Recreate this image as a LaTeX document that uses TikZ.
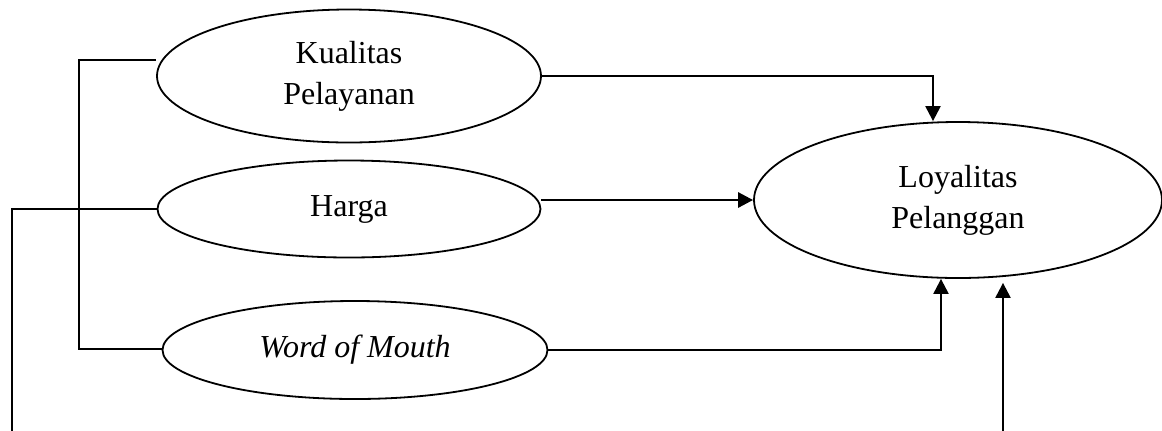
\documentclass[tikz,border=0pt]{standalone}
\usepackage{fontspec}
\setmainfont{Liberation Serif}
\usepackage{tikz}
\usetikzlibrary{shapes,arrows.meta}
\usetikzlibrary{positioning}
\tikzstyle{arrow} = [-{Triangle[length=7.5pt,width=7.5pt]}, line width=1.1pt]
\tikzstyle{line} = [draw, line width=1pt]
\tikzstyle{var} = [ellipse, draw, line width=0.9pt, align=center, inner sep=0pt,
   font=\fontsize{16}{20.5}\selectfont]

\begin{document}
\begin{tikzpicture}[node distance=66.5pt]

\useasboundingbox (0,0) rectangle (581pt,-215pt);
\clip (0,0) rectangle (581pt,-215pt);

\node (kp) [var, minimum width=192pt, minimum height=66.5pt] at (174.5pt,-38pt) {Kualitas\\Pelayanan};

\node (hg) [var, below of=kp, minimum width=191.5pt, minimum height=48.5pt] {Harga};

\node (wom) [var, below of=hg, xshift=3pt, yshift=-4pt, minimum width=192.5pt, minimum height=49pt] {\textit{Word of Mouth}};

\node (lp) [var, right of=hg, node distance=304.5pt, yshift=4.5pt, minimum width=204pt, minimum height=78pt] {Loyalitas\\Pelanggan};

\coordinate (brk) at (39.5pt,-174.5pt);
\coordinate (lft) at (6pt,-225pt);

\draw [arrow] (kp.east) -| ([xshift=-12.5pt]lp.north);

\draw [arrow, line width=1.4pt] (hg.east |- lp.west) -- (lp.west);

\draw [arrow] (wom.east) -| ([xshift=-8.5pt]lp.south);

\path [line] ([yshift=8pt]kp.west) -| (brk) -- (brk -| wom.west);

\draw [arrow] (hg.west) -| (lft) -| ([xshift=22.5pt,yshift=-2pt]lp.south);

\end{tikzpicture}
\end{document}
